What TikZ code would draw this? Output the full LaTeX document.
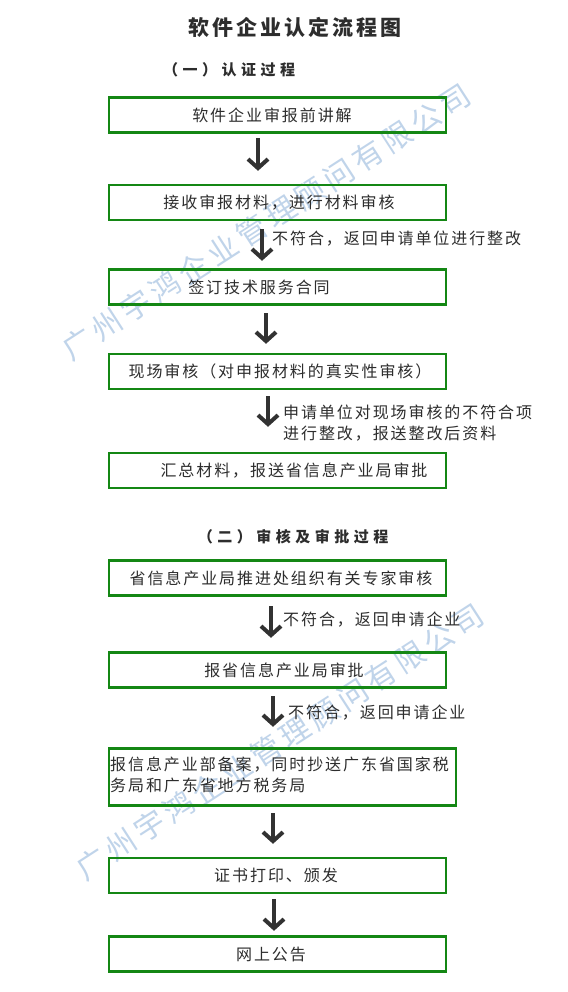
\documentclass[tikz,border=0pt]{standalone}
\usepackage{fontspec}
\usetikzlibrary{arrows.meta}
\newfontfamily\fbody[LetterSpace=12]{Noto Sans CJK SC}
\newfontfamily\ftitle[LetterSpace=14]{Noto Sans CJK SC}
\newfontfamily\fsub[LetterSpace=30]{Noto Sans CJK SC}
\newfontfamily\fwm[LetterSpace=15]{Noto Sans CJK SC}
\definecolor{gr}{RGB}{20,135,20}
\definecolor{txt}{RGB}{45,45,45}
\definecolor{arc}{RGB}{50,50,50}
\definecolor{wm}{RGB}{192,212,234}
\begin{document}
\begin{tikzpicture}[x=1pt,y=-1pt,
  box/.style={draw=gr, line width=2.4pt, minimum width=336.6pt, minimum height=35pt, inner sep=0pt},
  tx/.style={text=txt, font=\fbody\fontsize{16}{21}\selectfont, inner sep=0pt},
  ttl/.style={text=txt, font=\ftitle\bfseries\fontsize{21}{24}\selectfont, inner sep=0pt},
  sub/.style={text=txt, font=\fsub\bfseries\fontsize{15}{18}\selectfont, inner sep=0pt},
  wmk/.style={text=wm, font=\fwm\fontsize{30}{30}\selectfont, inner sep=0pt, rotate=32.9},
  arr/.style={draw=arc, line width=4pt, -{Straight Barb[length=9pt,width=20pt]}}]
\fill[white] (0,0) rectangle (567,992);
\path[use as bounding box] (0,0) rectangle (567,992);
% watermarks
\node[wmk] (wm1) at (266.5,221.5) {广州宇鸿企业管理顾问有限公司};
\node[wmk] (wm2) at (280,741.5) {广州宇鸿企业管理顾问有限公司};
% titles
\node[ttl] (title) at (295,27) {软件企业认定流程图};
\node[sub] (s1) at (229,70) {（一）认证过程};
\node[sub] (s2) at (293,537) {（二）审核及审批过程};
% boxes
\node[box, label={[tx,xshift=-5.5pt]center:{软件企业审报前讲解}}] (b1) at (277.5,115) {};
\node[box, label={[tx,xshift=1.5pt]center:{接收审报材料，进行材料审核}}] (b2) at (277.5,202.5) {};
\node[box, label={[tx,xshift=-18.5pt]center:{签订技术服务合同}}] (b3) at (277.5,287) {};
\node[box, label={[tx,xshift=2.5pt]center:{现场审核（对申报材料的真实性审核）}}] (b4) at (277.5,371.5) {};
\node[box, label={[tx,xshift=16.5pt]center:{汇总材料，报送省信息产业局审批}}] (b5) at (277.5,470.5) {};
\node[box, label={[tx,xshift=3.5pt]center:{省信息产业局推进处组织有关专家审核}}] (b6) at (277.5,578) {};
\node[box, label={[tx,xshift=6.5pt]center:{报省信息产业局审批}}] (b7) at (277.5,670) {};
\node[box, minimum width=346.6pt, minimum height=57pt] (b8) at (282.5,777) {};
\node[tx, anchor=base west, align=left] (t8) at (110,791) {报信息产业部备案，同时抄送广东省国家税\\务局和广东省地方税务局};
\node[box, label={[tx,xshift=-1.5pt]center:{证书打印、颁发}}] (b9) at (277.5,875.5) {};
\node[box, label={[tx,xshift=-6.5pt]center:{网上公告}}] (b10) at (277.5,954) {};
% arrows
\draw[arr, shorten <=4.5pt, shorten >=13pt] ([xshift=-19.5pt]b1.south) -- ([xshift=-19.5pt]b2.north);
\draw[arr, shorten <=8pt, shorten >=7.5pt] ([xshift=-15.5pt]b2.south) -- ([xshift=-15.5pt]b3.north);
\draw[arr, shorten <=7.5pt, shorten >=9pt] ([xshift=-11.5pt]b3.south) -- ([xshift=-11.5pt]b4.north);
\draw[arr, shorten <=6pt, shorten >=25pt] ([xshift=-9.5pt]b4.south) -- ([xshift=-9.5pt]b5.north);
\draw[arr, shorten <=9.5pt, shorten >=13.5pt] ([xshift=-6.5pt]b6.south) -- ([xshift=-6.5pt]b7.north);
\draw[arr, shorten <=7.5pt, shorten >=20.5pt] ([xshift=-4.5pt]b7.south) -- ([xshift=-4.5pt]b7.south |- b8.north);
\draw[arr, shorten <=6.5pt, shorten >=13pt] ([xshift=-9.5pt]b8.south) -- ([xshift=-9.5pt]b8.south |- b9.north);
\draw[arr, shorten <=5pt, shorten >=4.5pt] ([xshift=-3.5pt]b9.south) -- ([xshift=-3.5pt]b10.north);
% arrow labels
\node[tx, anchor=west] (l1) at (272,239) {不符合，返回申请单位进行整改};
\node[tx, anchor=base west, align=left] (l2) at (283,439) {申请单位对现场审核的不符合项\\进行整改，报送整改后资料};
\node[tx, anchor=west] (l3) at (283,620) {不符合，返回申请企业};
\node[tx, anchor=west] (l4) at (288,713) {不符合，返回申请企业};
\end{tikzpicture}
\end{document}
